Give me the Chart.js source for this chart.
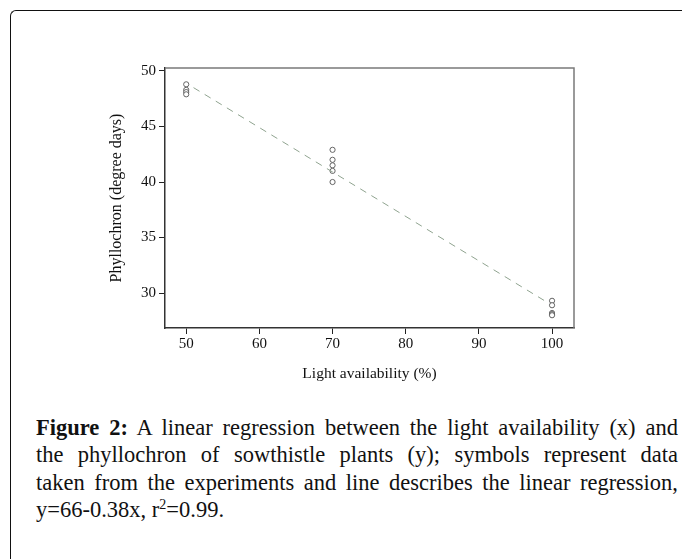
<!DOCTYPE html>
<html>
<head>
<meta charset="utf-8">
<script src="https://cdn.jsdelivr.net/npm/chart.js@4"></script>
<style>
  html, body { margin: 0; padding: 0; background: #fff; }
  body { width: 682px; height: 559px; position: relative; overflow: hidden; }
  #frame {
    position: absolute; left: 10px; top: 10px; width: 700px; height: 600px;
    border-left: 1.5px solid #111; border-top: 1.5px solid #111; border-top-left-radius: 6px;
  }
  #chartBox { position: absolute; left: 0; top: 0; width: 682px; height: 387px; }
  #caption {
    position: absolute; left: 36px; top: 414px; width: 642px;
    font-family: "Liberation Serif", serif; font-size: 22.5px; line-height: 27.3px;
    color: #111;
  }
  #caption .ln { text-align: justify; text-align-last: justify; white-space: nowrap; }
  #caption .last { text-align: left; text-align-last: left; }
  #caption b { font-weight: bold; }
</style>
</head>
<body>
<div id="frame"></div>
<div id="chartBox"><canvas id="chart"></canvas></div>
<div id="caption">
  <div class="ln"><b>Figure 2:</b> A linear regression between the light availability (x) and</div>
  <div class="ln">the phyllochron of sowthistle plants (y); symbols represent data</div>
  <div class="ln">taken from the experiments and line describes the linear regression,</div>
  <div class="ln last">y=66-0.38x, r<sup style="font-size:14px;line-height:0">2</sup>=0.99.</div>
</div>
<script>
// observed points
const lightX = [50, 50, 50, 50,
                70, 70, 70, 70, 70,
                100, 100, 100, 100, 100];
const phyllochronY = [48.8, 48.3, 48.1, 47.9,
                      42.9, 42.0, 41.5, 41.0, 40.0,
                      29.3, 28.9, 28.2, 28.1, 28.0];
// fitted line ends
const fitX = [51, 99];
const fitY = [48.5, 29.3];

const xTicks = [50, 60, 70, 80, 90, 100];
const yTicks = [30, 35, 40, 45, 50];

const serif = '"Liberation Serif", "Times New Roman", serif';

const framePlugin = {
    id: 'frame',
    afterDraw(chart) {
        const a = chart.chartArea;
        const ctx = chart.ctx;
        ctx.save();
        ctx.strokeStyle = '#7a7a7a';
        ctx.lineWidth = 1.5;
        ctx.beginPath();
        ctx.moveTo(a.left, a.top);
        ctx.lineTo(a.right, a.top);
        ctx.lineTo(a.right, a.bottom);
        ctx.stroke();
        ctx.restore();
    }
};

const chartNode = document.getElementById('chart').getContext('2d');

new Chart(chartNode, {
    type: 'scatter',
    data: {
        datasets: [{
            label: 'fit',
            type: 'line',
            data: fitX.map((x, i) => ({x: x, y: fitY[i]})),
            borderColor: '#8fa38f',
            borderWidth: 1,
            borderDash: [7, 6],
            pointRadius: 0,
            fill: false
        }, {
            label: 'observed',
            data: lightX.map((x, i) => ({x: x, y: phyllochronY[i]})),
            pointStyle: 'circle',
            pointRadius: 2.6,
            borderWidth: 0.9,
            borderColor: '#555',
            backgroundColor: '#fff'
        }]
    },
    options: {
        responsive: true,
        maintainAspectRatio: false,
        animation: false,
        layout: { padding: { left: 100, top: 68, right: 108, bottom: 0 } },
        plugins: { legend: { display: false }, tooltip: { enabled: false } },
        scales: {
            x: {
                type: 'linear',
                min: 47.1, max: 103,
                afterBuildTicks: (s) => { s.ticks = xTicks.map(v => ({value: v})); },
                afterFit: (s) => { s.height = 59; },
                grid: { drawOnChartArea: false, tickLength: 6, color: '#222' },
                border: { color: '#333', width: 1.5 },
                ticks: { color: '#111', font: { family: serif, size: 15 }, padding: 1 },
                title: { display: true, text: 'Light availability (%)', color: '#111',
                         font: { family: serif, size: 15.5 }, padding: { top: 0, bottom: 4 } }
            },
            y: {
                type: 'linear',
                min: 26.85, max: 50.27,
                afterBuildTicks: (s) => { s.ticks = yTicks.map(v => ({value: v})); },
                afterFit: (s) => { s.width = 65; },
                grid: { drawOnChartArea: false, tickLength: 6, color: '#222' },
                border: { color: '#333', width: 1.5 },
                ticks: { color: '#111', font: { family: serif, size: 15 }, padding: 3 },
                title: { display: true, text: 'Phyllochron (degree days)', color: '#111',
                         font: { family: serif, size: 16 }, padding: { top: 7, bottom: 0 } }
            }
        }
    },
    plugins: [framePlugin]
});
</script>
</body>
</html>
